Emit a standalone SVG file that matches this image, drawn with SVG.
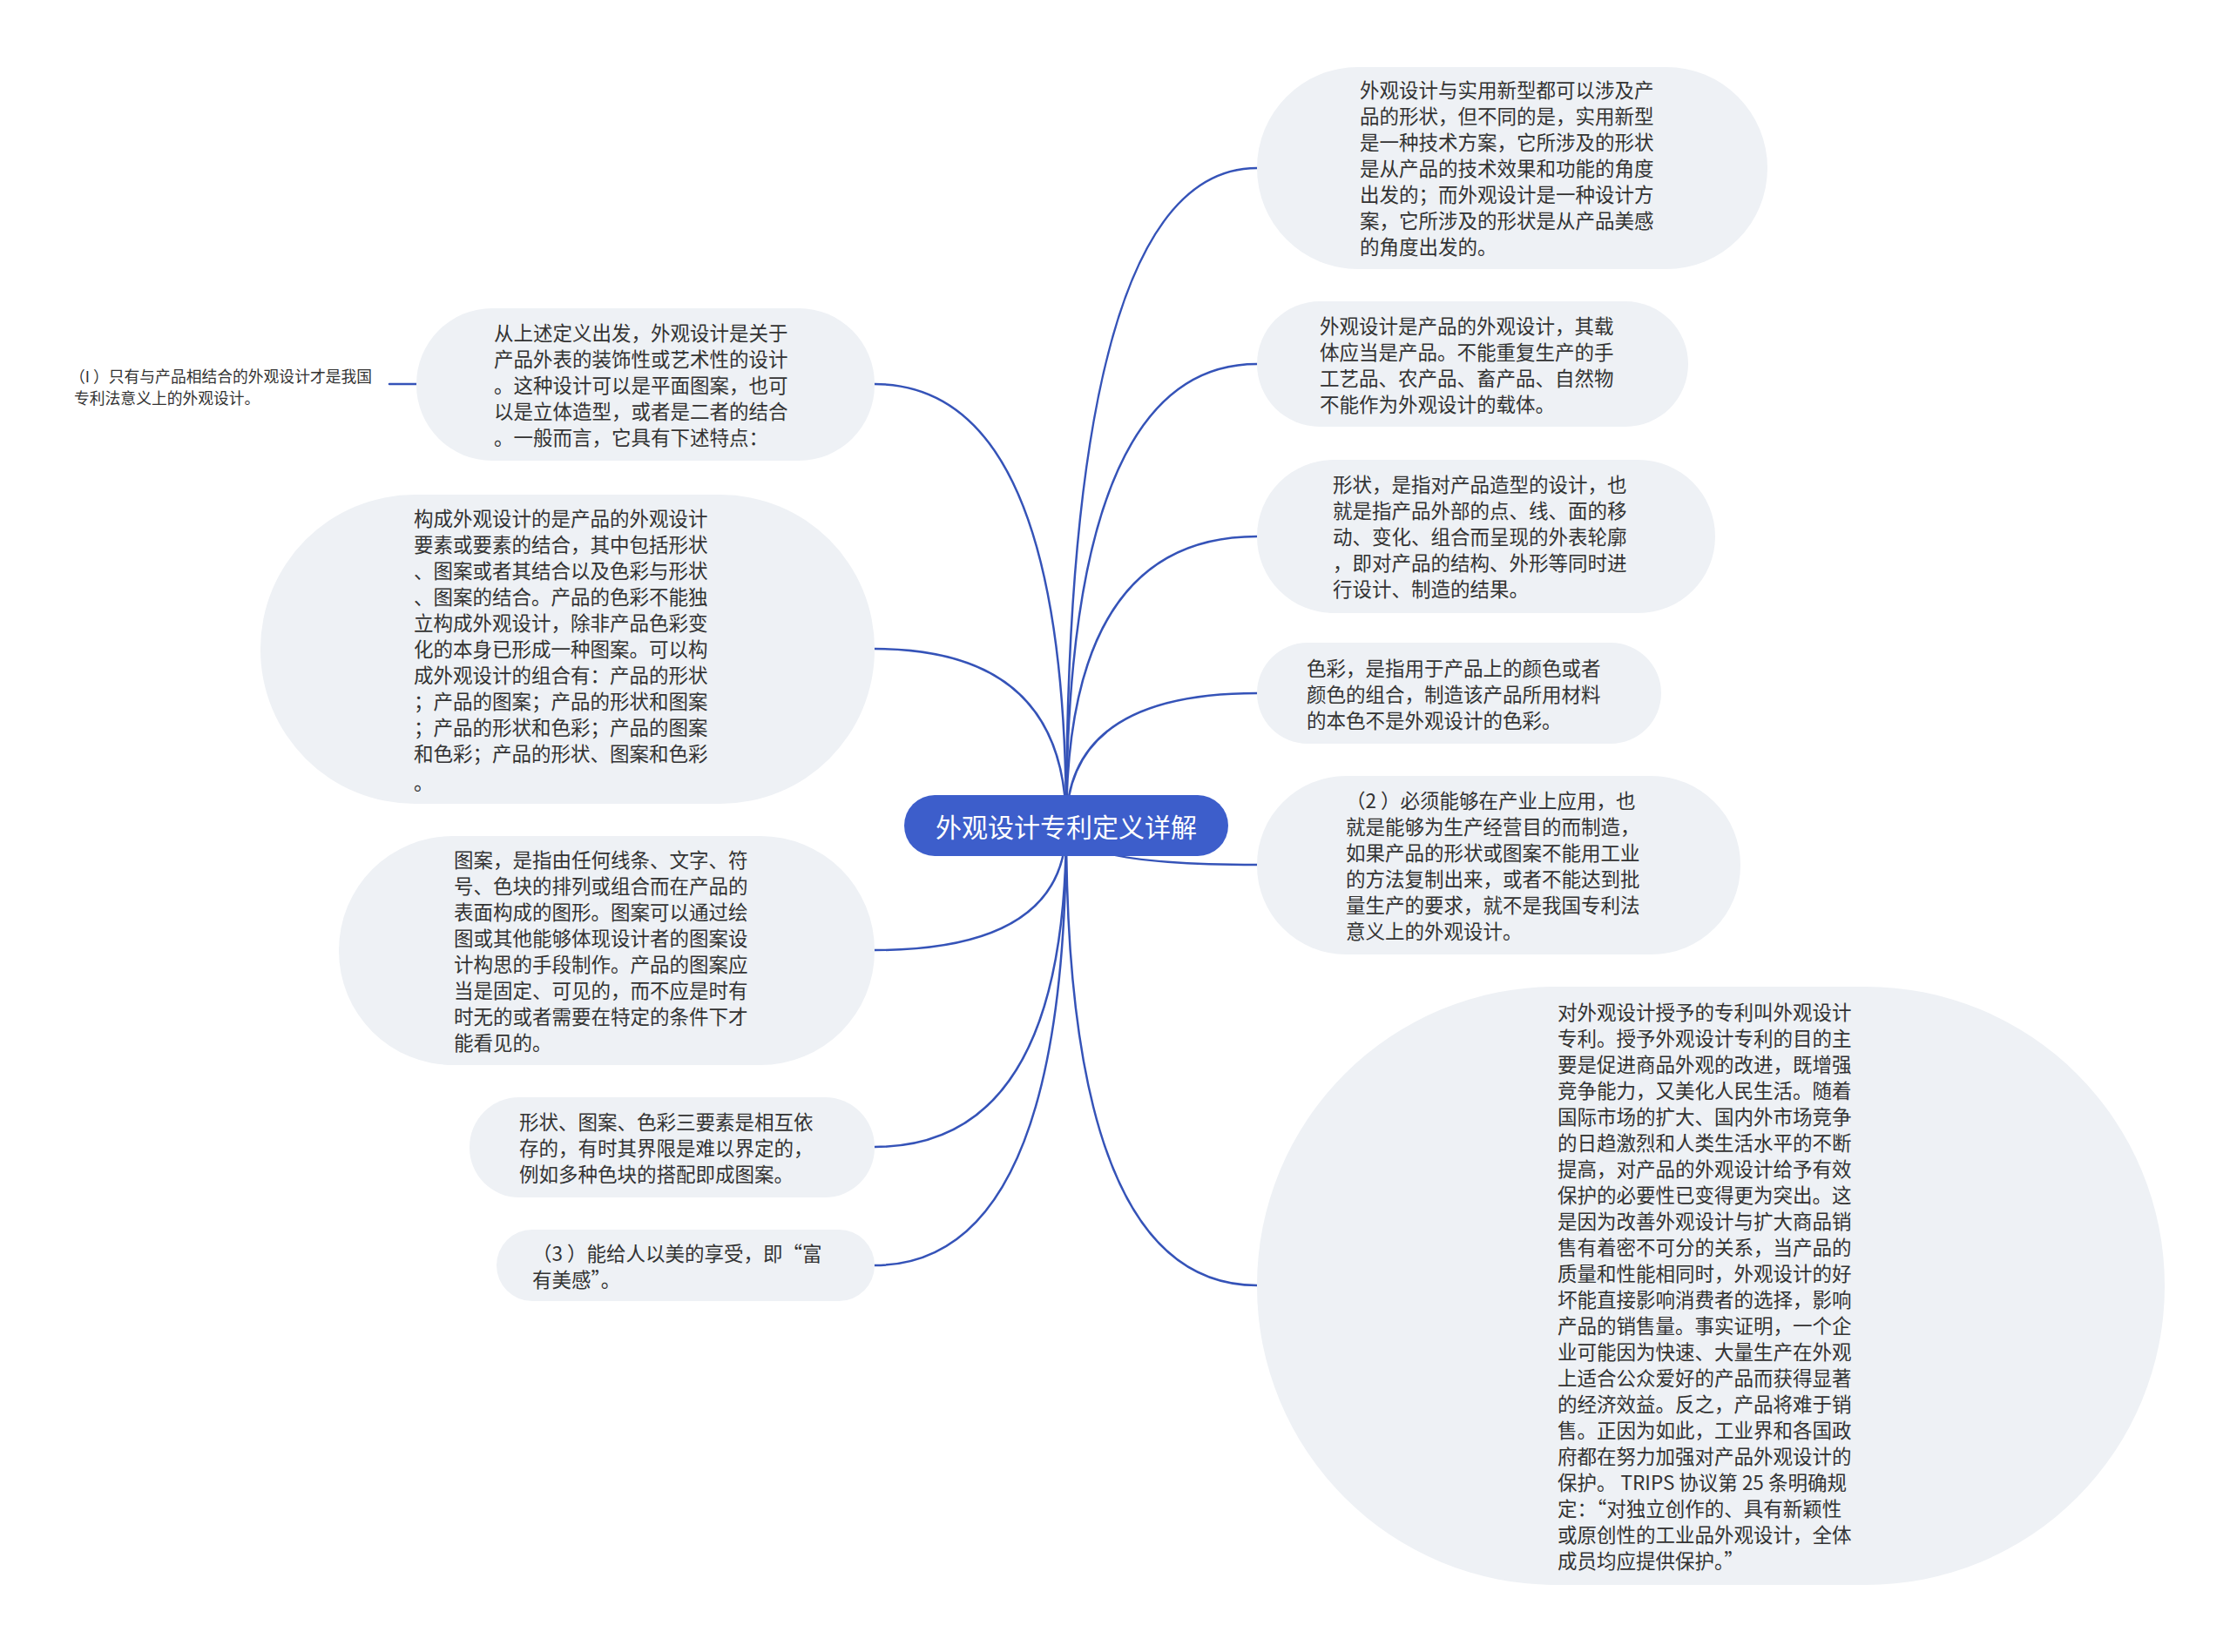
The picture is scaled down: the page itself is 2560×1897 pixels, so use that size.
<svg xmlns="http://www.w3.org/2000/svg" width="2560" height="1897" viewBox="0 0 2560 1897">
<style>
.bg{fill:#ffffff}
.node{fill:#eef1f5}
.root{fill:#3d5ecb}
.conn{fill:none;stroke:#3553b8;stroke-width:2.5;stroke-linecap:round}
.t{font-family:"Noto Sans CJK SC","Microsoft YaHei",sans-serif;font-size:22.5px;fill:#333333;dominant-baseline:central}
.small{font-family:"Noto Sans CJK SC","Microsoft YaHei",sans-serif;font-size:17.8px;fill:#333333;dominant-baseline:central}
.rt{font-family:"Noto Sans CJK SC","Microsoft YaHei",sans-serif;font-size:30px;fill:#ffffff;dominant-baseline:central;text-anchor:middle}
</style>
<rect class="bg" x="0" y="0" width="2560" height="1897"/>
<g id="connectors">
<path class="conn" d="M1224 948 Q1224 193 1443 193"/>
<path class="conn" d="M1224 948 Q1224 418 1443 418"/>
<path class="conn" d="M1224 948 Q1224 616 1443 616"/>
<path class="conn" d="M1224 948 Q1224 796 1443 796"/>
<path class="conn" d="M1224 948 Q1224 993 1443 993"/>
<path class="conn" d="M1224 948 Q1224 1476 1443 1476"/>
<path class="conn" d="M1224 948 Q1224 441 1004 441"/>
<path class="conn" d="M1224 948 Q1224 745 1004 745"/>
<path class="conn" d="M1224 948 Q1224 1091 1004 1091"/>
<path class="conn" d="M1224 948 Q1224 1317 1004 1317"/>
<path class="conn" d="M1224 948 Q1224 1453 1004 1453"/>
<path class="conn" d="M478 441 L447 441"/>
</g>
<g id="root">
<rect class="root" x="1038" y="913" width="372" height="70" rx="35"/>
<text class="rt" x="1224" y="948">外观设计专利定义详解</text>
</g>
<g id="r1">
<rect class="node" x="1443" y="77" width="586" height="232" rx="116"/>
<text class="t"><tspan x="1561" y="102">外观设计与实用新型都可以涉及产</tspan><tspan x="1561" y="132">品的形状，但不同的是，实用新型</tspan><tspan x="1561" y="162">是一种技术方案，它所涉及的形状</tspan><tspan x="1561" y="192">是从产品的技术效果和功能的角度</tspan><tspan x="1561" y="222">出发的；而外观设计是一种设计方</tspan><tspan x="1561" y="252">案，它所涉及的形状是从产品美感</tspan><tspan x="1561" y="282">的角度出发的。</tspan></text>
</g>
<g id="r2">
<rect class="node" x="1443" y="346" width="495" height="144" rx="72"/>
<text class="t"><tspan x="1515" y="373">外观设计是产品的外观设计，其载</tspan><tspan x="1515" y="403">体应当是产品。不能重复生产的手</tspan><tspan x="1515" y="433">工艺品、农产品、畜产品、自然物</tspan><tspan x="1515" y="463">不能作为外观设计的载体。</tspan></text>
</g>
<g id="r3">
<rect class="node" x="1443" y="528" width="526" height="176" rx="88"/>
<text class="t"><tspan x="1530" y="555">形状，是指对产品造型的设计，也</tspan><tspan x="1530" y="585">就是指产品外部的点、线、面的移</tspan><tspan x="1530" y="615">动、变化、组合而呈现的外表轮廓</tspan><tspan x="1530" y="645">，即对产品的结构、外形等同时进</tspan><tspan x="1530" y="675">行设计、制造的结果。</tspan></text>
</g>
<g id="r4">
<rect class="node" x="1443" y="738" width="464" height="116" rx="58"/>
<text class="t"><tspan x="1500" y="766">色彩，是指用于产品上的颜色或者</tspan><tspan x="1500" y="796">颜色的组合，制造该产品所用材料</tspan><tspan x="1500" y="826">的本色不是外观设计的色彩。</tspan></text>
</g>
<g id="r5">
<rect class="node" x="1443" y="891" width="555" height="205" rx="102"/>
<text class="t"><tspan x="1545" y="918">（2 ）必须能够在产业上应用，也</tspan><tspan x="1545" y="948">就是能够为生产经营目的而制造，</tspan><tspan x="1545" y="978">如果产品的形状或图案不能用工业</tspan><tspan x="1545" y="1008">的方法复制出来，或者不能达到批</tspan><tspan x="1545" y="1038">量生产的要求，就不是我国专利法</tspan><tspan x="1545" y="1068">意义上的外观设计。</tspan></text>
</g>
<g id="r6">
<rect class="node" x="1443" y="1133" width="1042" height="687" rx="343"/>
<text class="t"><tspan x="1788" y="1161">对外观设计授予的专利叫外观设计</tspan><tspan x="1788" y="1191">专利。授予外观设计专利的目的主</tspan><tspan x="1788" y="1221">要是促进商品外观的改进，既增强</tspan><tspan x="1788" y="1251">竞争能力，又美化人民生活。随着</tspan><tspan x="1788" y="1281">国际市场的扩大、国内外市场竞争</tspan><tspan x="1788" y="1311">的日趋激烈和人类生活水平的不断</tspan><tspan x="1788" y="1341">提高，对产品的外观设计给予有效</tspan><tspan x="1788" y="1371">保护的必要性已变得更为突出。这</tspan><tspan x="1788" y="1401">是因为改善外观设计与扩大商品销</tspan><tspan x="1788" y="1431">售有着密不可分的关系，当产品的</tspan><tspan x="1788" y="1461">质量和性能相同时，外观设计的好</tspan><tspan x="1788" y="1491">坏能直接影响消费者的选择，影响</tspan><tspan x="1788" y="1521">产品的销售量。事实证明，一个企</tspan><tspan x="1788" y="1551">业可能因为快速、大量生产在外观</tspan><tspan x="1788" y="1581">上适合公众爱好的产品而获得显著</tspan><tspan x="1788" y="1611">的经济效益。反之，产品将难于销</tspan><tspan x="1788" y="1641">售。正因为如此，工业界和各国政</tspan><tspan x="1788" y="1671">府都在努力加强对产品外观设计的</tspan><tspan x="1788" y="1701">保护。 TRIPS 协议第 25 条明确规</tspan><tspan x="1788" y="1731">定：“对独立创作的、具有新颖性</tspan><tspan x="1788" y="1761">或原创性的工业品外观设计，全体</tspan><tspan x="1788" y="1791">成员均应提供保护。”</tspan></text>
</g>
<g id="l0">
<text class="small"><tspan x="80" y="431">（I ）只有与产品相结合的外观设计才是我国</tspan><tspan x="85" y="456">专利法意义上的外观设计。</tspan></text>
</g>
<g id="l1">
<rect class="node" x="478" y="354" width="526" height="175" rx="87"/>
<text class="t"><tspan x="567" y="381">从上述定义出发，外观设计是关于</tspan><tspan x="567" y="411">产品外表的装饰性或艺术性的设计</tspan><tspan x="567" y="441">。这种设计可以是平面图案，也可</tspan><tspan x="567" y="471">以是立体造型，或者是二者的结合</tspan><tspan x="567" y="501">。一般而言，它具有下述特点：</tspan></text>
</g>
<g id="l2">
<rect class="node" x="299" y="568" width="705" height="355" rx="177"/>
<text class="t"><tspan x="475" y="594">构成外观设计的是产品的外观设计</tspan><tspan x="475" y="624">要素或要素的结合，其中包括形状</tspan><tspan x="475" y="654">、图案或者其结合以及色彩与形状</tspan><tspan x="475" y="684">、图案的结合。产品的色彩不能独</tspan><tspan x="475" y="714">立构成外观设计，除非产品色彩变</tspan><tspan x="475" y="744">化的本身已形成一种图案。可以构</tspan><tspan x="475" y="774">成外观设计的组合有：产品的形状</tspan><tspan x="475" y="804">；产品的图案；产品的形状和图案</tspan><tspan x="475" y="834">；产品的形状和色彩；产品的图案</tspan><tspan x="475" y="864">和色彩；产品的形状、图案和色彩</tspan><tspan x="475" y="897">。</tspan></text>
</g>
<g id="l3">
<rect class="node" x="389" y="960" width="615" height="263" rx="131"/>
<text class="t"><tspan x="521" y="986">图案，是指由任何线条、文字、符</tspan><tspan x="521" y="1016">号、色块的排列或组合而在产品的</tspan><tspan x="521" y="1046">表面构成的图形。图案可以通过绘</tspan><tspan x="521" y="1076">图或其他能够体现设计者的图案设</tspan><tspan x="521" y="1106">计构思的手段制作。产品的图案应</tspan><tspan x="521" y="1136">当是固定、可见的，而不应是时有</tspan><tspan x="521" y="1166">时无的或者需要在特定的条件下才</tspan><tspan x="521" y="1196">能看见的。</tspan></text>
</g>
<g id="l4">
<rect class="node" x="539" y="1260" width="465" height="115" rx="57"/>
<text class="t"><tspan x="596" y="1287">形状、图案、色彩三要素是相互依</tspan><tspan x="596" y="1317">存的，有时其界限是难以界定的，</tspan><tspan x="596" y="1347">例如多种色块的搭配即成图案。</tspan></text>
</g>
<g id="l5">
<rect class="node" x="570" y="1412" width="434" height="82" rx="41"/>
<text class="t"><tspan x="611" y="1438">（3 ）能给人以美的享受，即“富</tspan><tspan x="611" y="1468">有美感”。</tspan></text>
</g>
</svg>
